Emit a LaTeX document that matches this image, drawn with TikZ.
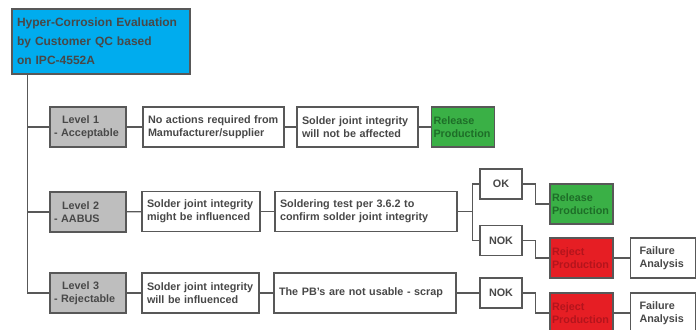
\documentclass[tikz,border=0pt]{standalone}
\usepackage{fontspec}
\setmainfont{Liberation Sans}
\definecolor{linec}{RGB}{88,88,88}
\definecolor{textc}{RGB}{72,72,72}
\definecolor{titleblue}{RGB}{0,172,238}
\definecolor{relgreen}{RGB}{58,176,70}
\definecolor{reltext}{RGB}{30,110,40}
\definecolor{rejred}{RGB}{230,30,36}
\definecolor{rejtext}{RGB}{180,20,28}
\definecolor{lvlgray}{RGB}{190,190,190}

\tikzset{
  base/.style={draw=linec, line width=1.2pt, text=textc, align=left,
    font=\bfseries\fontsize{10.8}{13}\selectfont},
  textbox/.style={base, fill=white, text width=#1, inner xsep=5pt, minimum height=40pt},
  levelbox/.style={base, fill=lvlgray, text width=68pt, inner xsep=4pt, minimum height=40pt},
  releasebox/.style={base, fill=relgreen, text=reltext, text width=59pt, inner xsep=2pt, minimum height=40pt},
  rejectbox/.style={base, fill=rejred, text=rejtext, text width=59pt, inner xsep=2pt, minimum height=40pt},
  failbox/.style={base, fill=white, text width=47pt, inner xsep=9pt, minimum height=40pt},
  checkbox/.style={base, fill=white, align=center, minimum width=42pt, minimum height=30pt},
  link/.style={draw=linec, line width=1.2pt},
}

\begin{document}
\begin{tikzpicture}[x=1pt,y=-1pt]
\useasboundingbox[fill=white] (0,0) rectangle (700,329);

% start
\node[base, fill=titleblue, text width=168pt, inner xsep=5pt, minimum height=65pt,
  font=\bfseries\fontsize{12}{19}\selectfont] (title) at (101,41.5)
  {Hyper-Corrosion Evaluation\\by Customer QC based\\on IPC-4552A};

% levels
\node[levelbox] (lvl1) at (88,127) {\hspace*{8pt}Level 1\\- Acceptable};
\node[levelbox] (lvl2) at (88,212) {\hspace*{8pt}Level 2\\- AABUS};
\node[levelbox] (lvl3) at (88,293) {\hspace*{8pt}Level 3\\- Rejectable};

% level 1
\node[textbox=131pt] (noact) at (213.5,127) {No actions required from\\Mamufacturer/supplier};
\node[textbox=111pt] (notaff) at (357.5,127) {Solder joint integrity\\will not be affected};
\node[releasebox] (rel1) at (463,127) {Release\\Production};

% level 2
\node[textbox=108pt] (might) at (201,211.5) {Solder joint integrity\\might be influenced};
\node[textbox=172pt] (soldtest) at (366,211.5) {Soldering test per 3.6.2 to\\confirm solder joint integrity};
\node[checkbox] (ok) at (501,184) {OK};
\node[checkbox] (nok2) at (501,240.5) {NOK};
\node[releasebox] (rel2) at (581.5,204) {Release\\Production};
\node[rejectbox] (rej2) at (581.5,258) {Reject\\Production};
\node[failbox] (fail2) at (663,258) {Failure\\Analysis};

% level 3
\node[textbox=107pt] (willinf) at (200.5,293) {Solder joint integrity\\will be influenced};
\node[textbox=172pt] (scrap) at (365,293) {The PB's are not usable - scrap};
\node[checkbox] (nok3) at (501,293) {NOK};
\node[rejectbox] (rej3) at (581.5,313) {Reject\\Production};
\node[failbox] (fail3) at (663,313) {Failure\\Analysis};

% connectors
\coordinate (trunk) at ([xshift=16pt]title.south west);
\draw[link] (trunk) |- (lvl3.west);
\draw[link] (trunk |- lvl1.west) -- (lvl1.west);
\draw[link] (trunk |- lvl2.west) -- (lvl2.west);
\draw[link] (lvl1) -- (noact);
\draw[link] (noact) -- (notaff);
\draw[link] (notaff) -- (rel1);
\draw[link] (lvl2) -- (might);
\draw[link] (might) -- (soldtest);
\draw[link] (soldtest.east) -- ++(15,0) coordinate (split);
\draw[link] (split) |- (ok.west);
\draw[link] (split) |- (nok2.west);
\draw[link] (ok.east) -- ++(13,0) |- (rel2.west);
\draw[link] (nok2.east) -- ++(13,0) |- (rej2.west);
\draw[link] (rej2) -- (fail2);
\draw[link] (lvl3) -- (willinf);
\draw[link] (willinf) -- (scrap);
\draw[link] (scrap) -- (nok3);
\draw[link] (nok3.east) -- ++(13,0) |- (rej3.west);
\draw[link] (rej3) -- (fail3);
\end{tikzpicture}
\end{document}
